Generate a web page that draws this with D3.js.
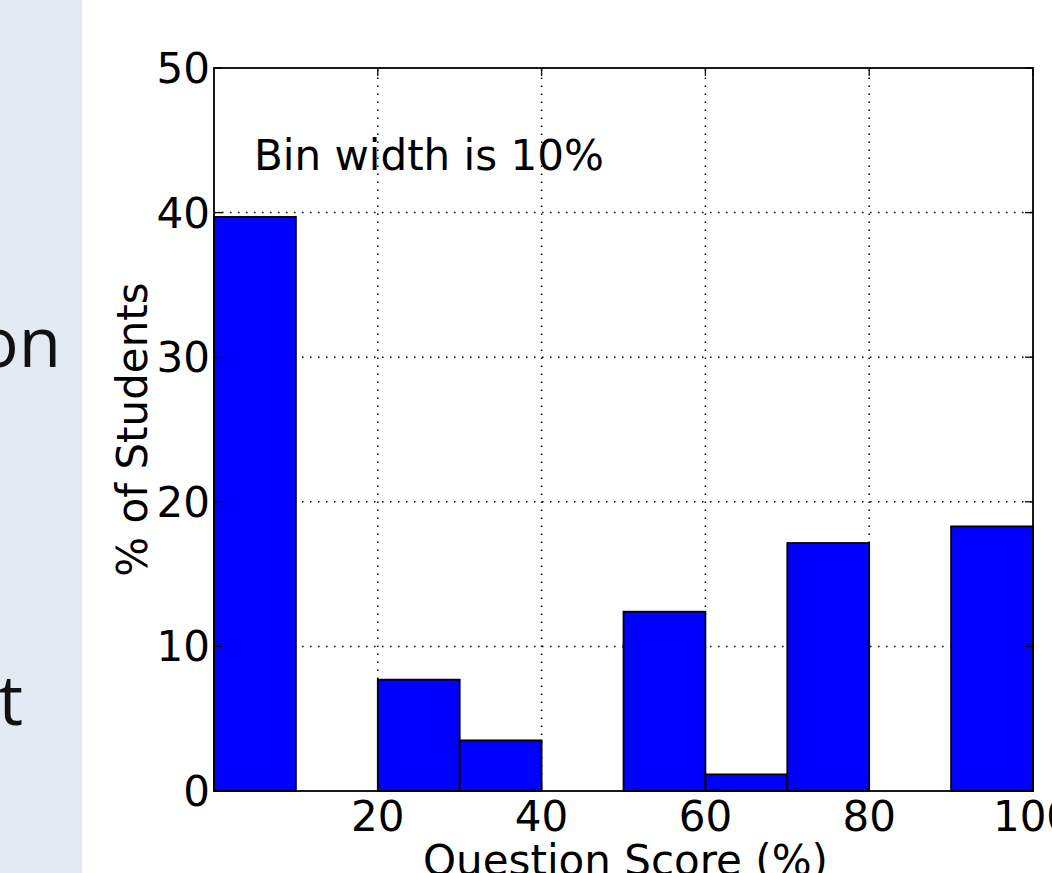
<!DOCTYPE html>
<html>
<head>
<meta charset="utf-8">
<script src="https://cdn.jsdelivr.net/npm/d3@7"></script>
<style>
  html, body { margin: 0; padding: 0; background: #fff; overflow: hidden; }
  svg { display: block; }
</style>
</head>
<body>
<svg></svg>
<script>
const width = 1052;
const height = 873;

// -----------------------------
// DATA
// -----------------------------
const binStarts = [0, 10, 20, 30, 40, 50, 60, 70, 80, 90];
const binPercent = [39.7, 0, 7.7, 3.5, 0, 12.4, 1.15, 17.15, 0, 18.3];
const xTicks = [20, 40, 60, 80, 100];
const yTicks = [0, 10, 20, 30, 40, 50];
const gridX = [20, 40, 60, 80];
const gridY = [10, 20, 30, 40];
const sideWords = ["on", "t"];

const binWidth = 10;

const svg = d3.select("svg")
  .attr("width", width)
  .attr("height", height);

// -----------------------------
// SLIDE PANEL (left)
// -----------------------------
svg.append("rect")
  .attr("x", 0).attr("y", 0)
  .attr("width", 82).attr("height", height)
  .attr("fill", "#e2eaf4");

svg.selectAll("text.side")
  .data(sideWords)
  .join("text")
  .attr("class", "side")
  .attr("x", (d, i) => i === 0 ? 61 : 23)
  .attr("y", (d, i) => i === 0 ? 367 : 725)
  .attr("text-anchor", "end")
  .attr("font-family", "'Open Sans', sans-serif")
  .attr("font-size", 69)
  .attr("fill", "#111")
  .text(d => d);

// -----------------------------
// SCALES
// -----------------------------
const margin = { left: 214, top: 68, right: 19, bottom: 82 };
const x = d3.scaleLinear().domain([0, 100]).range([margin.left, width - margin.right]);
const y = d3.scaleLinear().domain([0, 50]).range([height - margin.bottom, margin.top]);

const plot = svg.append("g");
const font = "'DejaVu Sans', sans-serif";
const fs = 42;

// -----------------------------
// GRID
// -----------------------------
plot.append("g")
  .selectAll("line")
  .data(gridX)
  .join("line")
  .attr("x1", d => x(d)).attr("x2", d => x(d))
  .attr("y1", y(0)).attr("y2", y(50))
  .attr("stroke", "#000")
  .attr("stroke-width", 1.5)
  .attr("stroke-dasharray", "1.5,6.5");

plot.append("g")
  .selectAll("line")
  .data(gridY)
  .join("line")
  .attr("x1", x(0)).attr("x2", x(100))
  .attr("y1", d => y(d)).attr("y2", d => y(d))
  .attr("stroke", "#000")
  .attr("stroke-width", 1.5)
  .attr("stroke-dasharray", "1.5,6.5");

// -----------------------------
// BARS
// -----------------------------
plot.append("g")
  .selectAll("rect")
  .data(binStarts.map((s, i) => ({ start: s, value: binPercent[i] })).filter(d => d.value > 0))
  .join("rect")
  .attr("x", d => x(d.start))
  .attr("y", d => y(d.value))
  .attr("width", d => x(d.start + binWidth) - x(d.start))
  .attr("height", d => y(0) - y(d.value))
  .attr("fill", "#0000ff")
  .attr("stroke", "#000")
  .attr("stroke-width", 1.8);

// -----------------------------
// FRAME + TICKS
// -----------------------------
plot.append("rect")
  .attr("x", x(0)).attr("y", y(50))
  .attr("width", x(100) - x(0))
  .attr("height", y(0) - y(50))
  .attr("fill", "none")
  .attr("stroke", "#000")
  .attr("stroke-width", 1.8);

const tickLen = 8;
const ticks = plot.append("g").attr("stroke", "#000").attr("stroke-width", 1.3);

ticks.selectAll("line.yl")
  .data(yTicks)
  .join("line")
  .attr("class", "yl")
  .attr("x1", x(0)).attr("x2", x(0) + tickLen)
  .attr("y1", d => y(d)).attr("y2", d => y(d));

ticks.selectAll("line.yr")
  .data(yTicks)
  .join("line")
  .attr("class", "yr")
  .attr("x1", x(100)).attr("x2", x(100) - tickLen)
  .attr("y1", d => y(d)).attr("y2", d => y(d));

ticks.selectAll("line.xb")
  .data(xTicks)
  .join("line")
  .attr("class", "xb")
  .attr("x1", d => x(d)).attr("x2", d => x(d))
  .attr("y1", y(0)).attr("y2", y(0) - tickLen);

ticks.selectAll("line.xt")
  .data(xTicks)
  .join("line")
  .attr("class", "xt")
  .attr("x1", d => x(d)).attr("x2", d => x(d))
  .attr("y1", y(50)).attr("y2", y(50) + tickLen);

// -----------------------------
// TICK LABELS
// -----------------------------
plot.append("g")
  .selectAll("text")
  .data(yTicks)
  .join("text")
  .attr("x", x(0) - 4)
  .attr("y", d => y(d) + 15)
  .attr("text-anchor", "end")
  .attr("font-family", font)
  .attr("font-size", fs)
  .attr("fill", "#000")
  .text(d => d);

plot.append("g")
  .selectAll("text")
  .data(xTicks)
  .join("text")
  .attr("x", d => x(d))
  .attr("y", y(0) + 40)
  .attr("text-anchor", "middle")
  .attr("font-family", font)
  .attr("font-size", fs)
  .attr("fill", "#000")
  .text(d => d);

// -----------------------------
// AXIS TITLES + NOTE
// -----------------------------
plot.append("text")
  .attr("transform", `translate(147, ${(y(0) + y(50)) / 2}) rotate(-90)`)
  .attr("text-anchor", "middle")
  .attr("font-family", font)
  .attr("font-size", fs)
  .attr("fill", "#000")
  .text("% of Students");

plot.append("text")
  .attr("x", (x(0) + x(100)) / 2 + 2)
  .attr("y", 875)
  .attr("text-anchor", "middle")
  .attr("font-family", font)
  .attr("font-size", fs)
  .attr("fill", "#000")
  .text("Question Score (%)");

plot.append("text")
  .attr("x", 254)
  .attr("y", 170)
  .attr("font-family", font)
  .attr("font-size", fs)
  .attr("fill", "#000")
  .text("Bin width is 10%");
</script>
</body>
</html>
